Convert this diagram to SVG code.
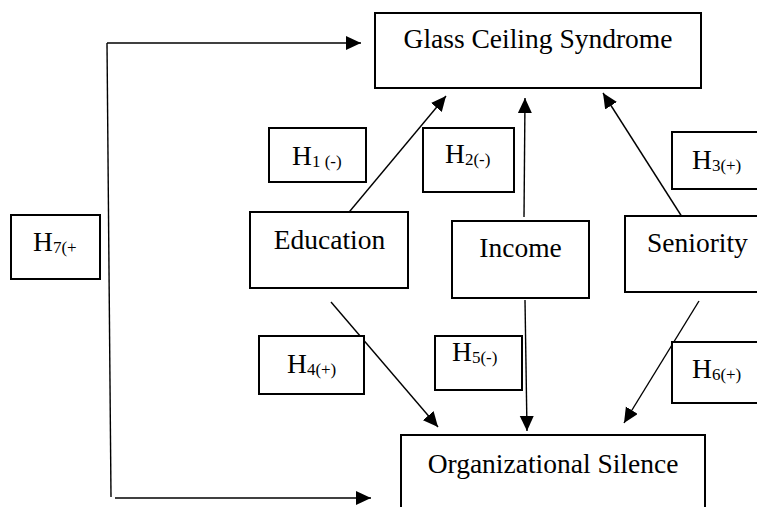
<svg xmlns="http://www.w3.org/2000/svg" width="757" height="507" viewBox="0 0 757 507">
<style>
.box{fill:#fff;stroke:#000;stroke-width:2}
.t{font-family:'Liberation Serif',serif;font-size:27.5px;fill:#000}
.s{font-size:17px}
.ln{stroke:#000;stroke-width:1.4;fill:none}
</style>
<defs>
<marker id="ah" markerUnits="userSpaceOnUse" markerWidth="16" markerHeight="15" refX="15" refY="7" orient="auto">
<path d="M0,0 L15,7 L0,14 z" fill="#000"/>
</marker>
</defs>
<rect width="757" height="507" fill="#fff"/>
<g id="connectors">
<line class="ln" x1="107" y1="43" x2="361" y2="43" marker-end="url(#ah)"/>
<line class="ln" x1="107" y1="43" x2="111" y2="497"/>
<line class="ln" x1="115" y1="498" x2="371" y2="498" marker-end="url(#ah)"/>
<line class="ln" x1="345" y1="217" x2="446" y2="96" marker-end="url(#ah)"/>
<line class="ln" x1="524" y1="217" x2="525" y2="98" marker-end="url(#ah)"/>
<line class="ln" x1="684" y1="220" x2="603" y2="93" marker-end="url(#ah)"/>
<line class="ln" x1="331" y1="302" x2="438" y2="427" marker-end="url(#ah)"/>
<line class="ln" x1="525" y1="300" x2="527" y2="431" marker-end="url(#ah)"/>
<line class="ln" x1="699" y1="301" x2="624" y2="423" marker-end="url(#ah)"/>
</g>
<g id="glass">
<rect class="box" x="375" y="13" width="326" height="75"/>
<text class="t" x="538" y="48" text-anchor="middle">Glass Ceiling Syndrome</text>
</g>
<g id="education">
<rect class="box" x="250" y="212" width="158" height="76"/>
<text class="t" x="329.5" y="249" text-anchor="middle">Education</text>
</g>
<g id="income">
<rect class="box" x="452" y="221" width="137" height="77"/>
<text class="t" x="520.5" y="257" text-anchor="middle">Income</text>
</g>
<g id="seniority">
<rect class="box" x="625" y="216" width="150" height="76"/>
<text class="t" x="647" y="252">Seniority</text>
</g>
<g id="silence">
<rect class="box" x="401" y="435" width="304" height="100"/>
<text class="t" x="553" y="473" text-anchor="middle">Organizational Silence</text>
</g>
<g id="h1">
<rect class="box" x="269" y="128" width="97" height="54"/>
<text class="t" x="292" y="165">H<tspan class="s" dy="2">1 (-)</tspan></text>
</g>
<g id="h2">
<rect class="box" x="423" y="128" width="91" height="64"/>
<text class="t" x="445" y="163">H<tspan class="s" dy="2">2(-)</tspan></text>
</g>
<g id="h3">
<rect class="box" x="672" y="132" width="100" height="57"/>
<text class="t" x="692" y="169">H<tspan class="s" dy="2">3(+)</tspan></text>
</g>
<g id="h4">
<rect class="box" x="259" y="336" width="105" height="58"/>
<text class="t" x="287" y="373">H<tspan class="s" dy="2">4(+)</tspan></text>
</g>
<g id="h5">
<rect class="box" x="435" y="336" width="87" height="54"/>
<text class="t" x="452" y="361">H<tspan class="s" dy="2">5(-)</tspan></text>
</g>
<g id="h6">
<rect class="box" x="672" y="342" width="100" height="61"/>
<text class="t" x="692" y="378">H<tspan class="s" dy="2">6(+)</tspan></text>
</g>
<g id="h7">
<rect class="box" x="11" y="215" width="89" height="64"/>
<text class="t" x="33" y="251">H<tspan class="s" dy="2">7(+</tspan></text>
</g>
</svg>
